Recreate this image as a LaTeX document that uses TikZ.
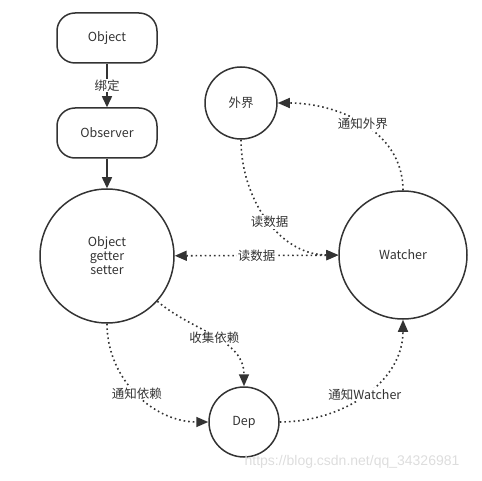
\documentclass[tikz,border=0pt]{standalone}
\usepackage{fontspec}
\setmainfont{Noto Sans CJK SC}
\newfontfamily\markfont{Liberation Sans}
\usetikzlibrary{arrows.meta}
\definecolor{ink}{HTML}{333333}
\definecolor{mark}{HTML}{DDDDDD}
\begin{document}
\begin{tikzpicture}[x=1pt,y=1pt,
	every node/.style={text=ink,font=\fontsize{12.5}{14}\selectfont},
	box/.style={draw=ink,line width=1.5pt,rounded corners=18pt,minimum width=100pt,minimum height=50pt},
	ball/.style={draw=ink,line width=1.5pt,circle,inner sep=0pt},
	solidarr/.style={draw=ink,line width=1.5pt,-{Triangle[length=11pt,width=10pt]}},
	dotarr/.style={draw=ink,line width=1.6pt,dash pattern=on 1.6pt off 3pt,-{Triangle[length=12pt,width=10pt]}},
	tag/.style={fill=white,inner sep=1pt}]
\useasboundingbox (0,0) rectangle (482,480);
\node[box] (object) at (107,442) {Object}; % Object
\node[box] (observer) at (107,347) {Observer}; % Observer
\node[ball,minimum size=134pt,align=center] (getset) at (107,224) {Object\\getter\\setter}; % getter setter
\node[ball,minimum size=72pt] (outside) at (241,377) {外界}; % 外界
\node[ball,minimum size=128pt] (watcher) at (403,225) {Watcher}; % Watcher
\node[ball,minimum size=70pt] (dep) at (244,58) {Dep}; % Dep
\draw[solidarr] (object) -- node[tag] {绑定} (observer); % 绑定
\draw[solidarr] (observer) -- (getset); % Observer -> getter
\draw[dotarr,{Triangle[length=12pt,width=10pt]}-{Triangle[length=12pt,width=10pt]}] (getset) -- node[tag] {读数据} (watcher); % 读数据
\draw[dotarr] (outside.south) to[out=-90,in=180] node[tag,pos=0.52] {读数据} (watcher.west); % 读数据
\draw[dotarr] (watcher.north) to[out=90,in=0] node[tag,pos=0.5] {通知外界} (outside.east); % 通知外界
\draw[dotarr] (getset.-42) to[out=-40,in=90] node[tag,pos=0.5] {收集依赖} (dep.north); % 收集依赖
\draw[dotarr] (getset.south) to[out=-90,in=180] node[tag,pos=0.5] {通知依赖} (dep.west); % 通知依赖
\draw[dotarr] (dep.east) to[out=0,in=-90] node[tag,pos=0.5] {通知Watcher} (watcher.south); % 通知Watcher
\node[text=mark,font=\markfont\fontsize{14}{16}\selectfont] (stamp) at (352,18) {https://blog.csdn.net/qq\_34326981}; % watermark
\end{tikzpicture}
\end{document}
